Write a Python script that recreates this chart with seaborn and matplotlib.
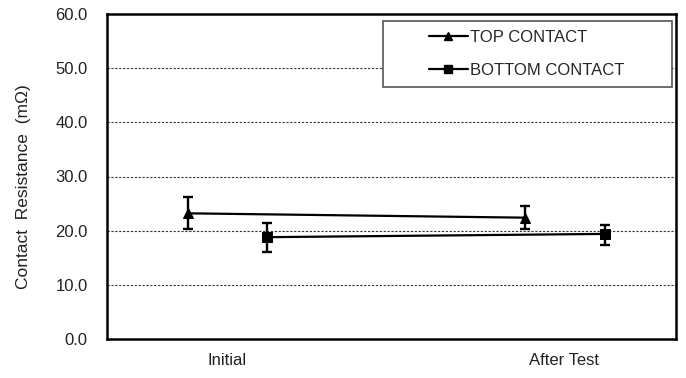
import matplotlib
matplotlib.use("Agg")
import matplotlib.pyplot as plt
import seaborn as sns
import pandas as pd
import numpy as np
from matplotlib.patches import Rectangle

stages = ["Initial", "After Test"]
series = ["TOP CONTACT", "BOTTOM CONTACT"]
top_mean = [23.2, 22.4]
top_low = [20.3, 20.3]
top_high = [26.2, 24.5]
bot_mean = [18.8, 19.4]
bot_low = [16.0, 17.3]
bot_high = [21.4, 21.0]
y_ticks = [0, 10, 20, 30, 40, 50, 60]

dodge = {"TOP CONTACT": -0.115, "BOTTOM CONTACT": 0.12}
markers = {"TOP CONTACT": "^", "BOTTOM CONTACT": "s"}

rows = []
for s, m, lo, hi in [("TOP CONTACT", top_mean, top_low, top_high),
                     ("BOTTOM CONTACT", bot_mean, bot_low, bot_high)]:
    for i, st in enumerate(stages):
        rows.append(dict(stage=st, series=s, x=i + dodge[s], mean=m[i], lo=lo[i], hi=hi[i]))
df = pd.DataFrame(rows)

sns.set_theme(style="white")
plt.rcParams["font.family"] = ["Liberation Sans", "DejaVu Sans"]

fig = plt.figure(figsize=(6.86, 3.78), dpi=100)
ax = fig.add_axes([107/686, 1 - 339/378, (676-107)/686, (339-14)/378])

sns.lineplot(data=df, x="x", y="mean", hue="series", style="series",
             markers=markers, dashes=False, palette=["black", "black"],
             markersize=6.5, linewidth=1.6, markeredgecolor="black",
             legend=False, ax=ax, sort=False)

for s in series:
    d = df[df.series == s]
    ax.errorbar(d["x"], d["mean"], yerr=[d["mean"] - d["lo"], d["hi"] - d["mean"]],
                fmt="none", ecolor="black", elinewidth=1.7, capsize=3.3, capthick=1.7)

ax.set_xlim(-0.356, 1.332)
ax.set_ylim(0, 60)
ax.set_yticks(y_ticks)
ax.set_yticklabels([f"{v:.1f}" for v in y_ticks], fontsize=12, color="#222222")
ax.set_xticks(range(len(stages)))
ax.set_xticklabels(stages, fontsize=12, color="#222222")
ax.tick_params(axis="y", length=0, pad=14)
ax.tick_params(axis="x", length=0, pad=10)
ax.set_xlabel("")
ax.set_ylabel("Contact  Resistance  (m\u03a9)", fontsize=12.5, color="#222222")
ax.yaxis.set_label_coords(-0.133, 0.47)
for v in y_ticks[1:-1]:
    ax.axhline(v, color="#333333", linestyle=(0, (2, 1.5)), linewidth=0.8, zorder=0)
for sp in ax.spines.values():
    sp.set_color("black")
    sp.set_linewidth(1.8)

# legend
handles = [plt.Line2D([], [], color="black", marker=markers[s], markersize=5.5, linewidth=1.6)
           for s in series]
leg = ax.legend(handles, series, loc="center", bbox_to_anchor=(0.738, 0.877),
                frameon=False, fontsize=12, handlelength=2.3, handletextpad=0.15,
                labelspacing=1.05)
ax.add_patch(Rectangle((0.485, 0.775), 0.508, 0.203, transform=ax.transAxes,
                       fill=True, facecolor="white", edgecolor="#555555", linewidth=1.2, zorder=4))
leg.set_zorder(5)

fig.savefig("out.png", dpi=100)
